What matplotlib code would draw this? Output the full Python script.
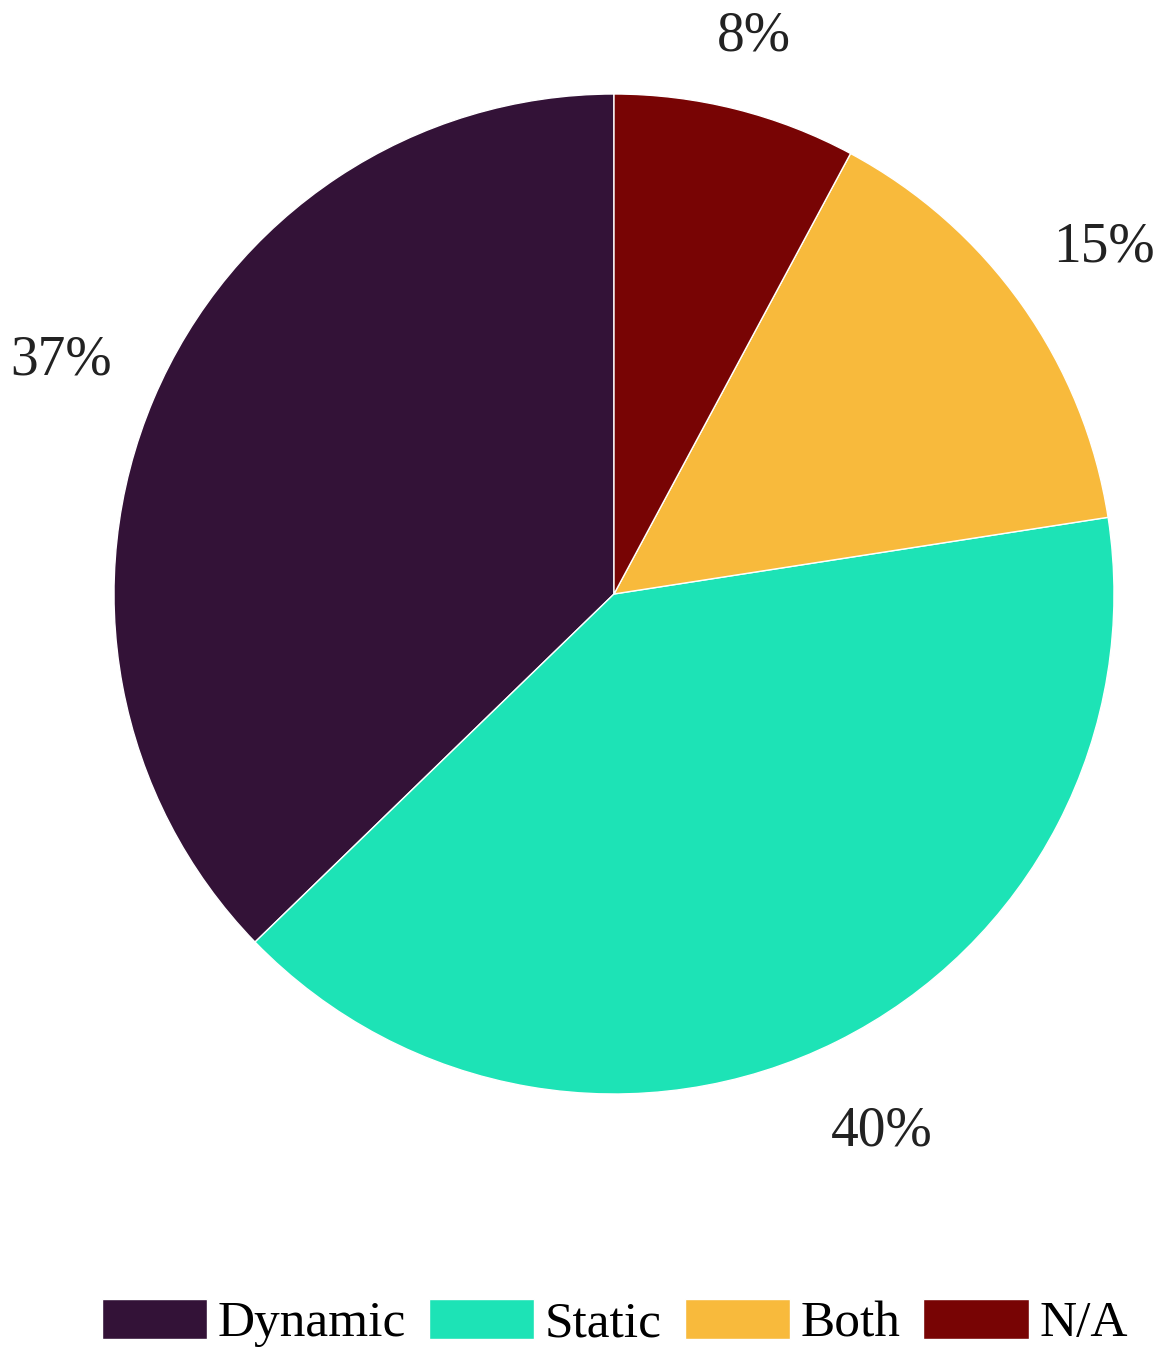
import matplotlib
matplotlib.use("Agg")
import matplotlib.pyplot as plt

# Data
labels = ["Dynamic", "Static", "Both", "N/A"]
counts = [38, 41, 15, 8]
colors = ["#331237", "#1DE3B6", "#F8BA3C", "#780404"]

plt.rcParams['font.family'] = ['Liberation Serif', 'DejaVu Serif']

fig = plt.figure(figsize=(11.71, 13.65), dpi=100)
ax = fig.add_axes([0, 0, 1, 1])

wedges, texts, autotexts = ax.pie(
    counts, colors=colors, startangle=90, counterclock=True,
    autopct=lambda p: f"{p:.0f}%", pctdistance=1.2,
    wedgeprops=dict(edgecolor="white", linewidth=1),
    textprops=dict(fontsize=40, color="#222222"),
)
# the small top slice label sits a bit closer to the pie
x, y = autotexts[3].get_position()
autotexts[3].set_position((x * 1.15 / 1.2, y * 1.15 / 1.2))

# pie centre at (614, 594) px, radius 500 px
ax.set_xlim(-614 / 500, (1171 - 614) / 500)
ax.set_ylim(-(1365 - 594) / 500, 594 / 500)
ax.set_aspect("auto")
ax.axis("off")

fig.legend(wedges, labels, loc="center", bbox_to_anchor=(0.525, 1 - 1323 / 1365),
           ncol=4, frameon=False, fontsize=37,
           handlelength=2.05, handleheight=0.82, handletextpad=0.2,
           columnspacing=0.45)

fig.savefig("out.png", dpi=100)
